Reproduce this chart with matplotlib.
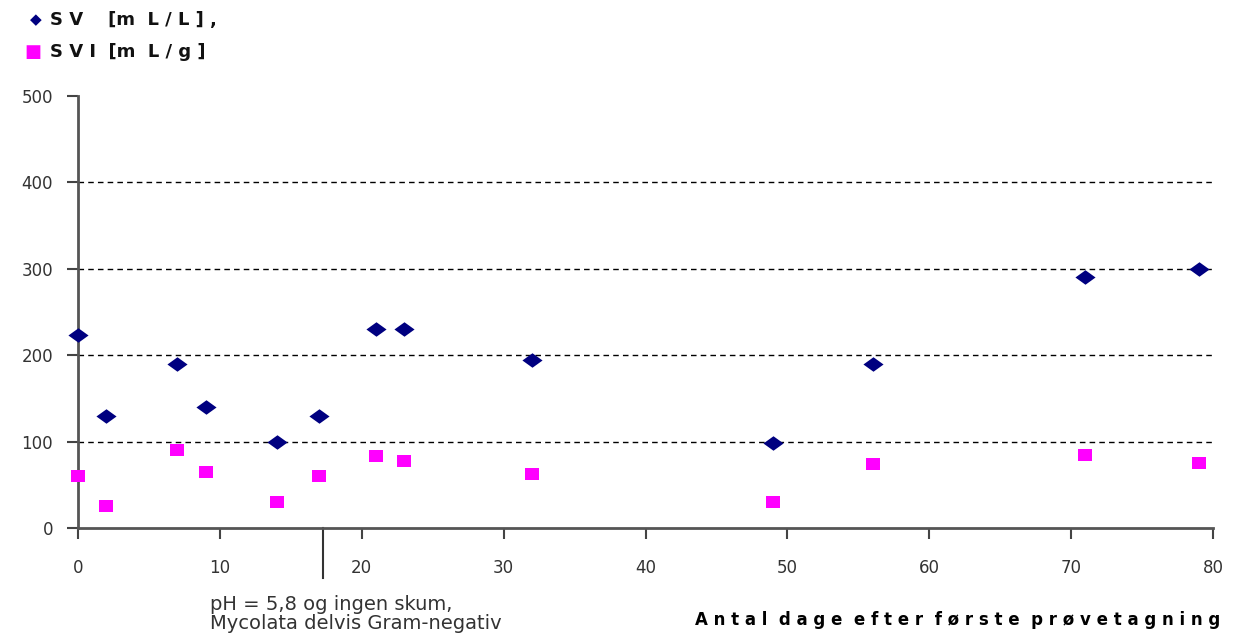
import matplotlib
matplotlib.use("Agg")
import matplotlib.pyplot as plt

days = [0, 2, 7, 9, 14, 17, 21, 23, 32, 49, 56, 71, 79]
sv = [223, 130, 190, 140, 100, 130, 230, 230, 195, 98, 190, 290, 300]
svi = [60, 25, 90, 65, 30, 60, 83, 78, 63, 30, 74, 84, 75]
x_ticks = [0, 10, 20, 30, 40, 50, 60, 70, 80]
y_ticks = [0, 100, 200, 300, 400, 500]
grid_levels = [100, 200, 300, 400]
event_day = 17.3
labels = ["S V    [m  L / L ] ,", "S V I  [m  L / g ]"]
xlabel = "A n t a l  d a g e  e f t e r  f ø r s t e  p r ø v e t a g n i n g"
note = "pH = 5,8 og ingen skum,\nMycolata delvis Gram-negativ"

fig = plt.figure(figsize=(12.38, 6.41), dpi=100)
ax = fig.add_axes([78/1238, 1-528/641, (1213-78)/1238, (528-96)/641])

for g in grid_levels:
    ax.axhline(g, color="black", linestyle=(0, (4, 3)), linewidth=1, zorder=1)

diamond = [(-1, 0), (0, 0.72), (1, 0), (0, -0.72), (-1, 0)]
rect = [(-1, -0.8), (1, -0.8), (1, 0.8), (-1, 0.8), (-1, -0.8)]
ax.scatter(days, sv, marker=diamond, s=210, color="#000080", zorder=3, linewidths=0,
           clip_on=False)
ax.scatter(days, svi, marker=rect, s=115, color="#ff00ff", zorder=3, linewidths=0,
           clip_on=False)

ax.set_xlim(0, 80)
ax.set_ylim(0, 500)
ax.set_xticks(x_ticks)
ax.set_yticks(y_ticks)
for s in ["top", "right"]:
    ax.spines[s].set_visible(False)
for s in ["left", "bottom"]:
    ax.spines[s].set_color("#555555")
    ax.spines[s].set_linewidth(2)
ax.tick_params(axis="both", direction="out", length=8, width=1.5, color="#444444",
               labelsize=12, labelcolor="#333333")
ax.tick_params(axis="x", pad=14)
ax.tick_params(axis="y", pad=10)
ax.spines["left"].set_zorder(2)

ax.axvline(event_day, ymin=-0.116, ymax=0, clip_on=False, color="#333333", linewidth=1.5)

# legend
fig.text(30/1238, 1-20/641, "◆", color="#000080", fontsize=11, va="center", ha="left")
fig.text(50/1238, 1-20/641, labels[0], fontsize=13, fontweight="bold", va="center", ha="left", color="#111111")
fig.text(24/1238, 1-52/641, "■", color="#ff00ff", fontsize=13, va="center", ha="left")
fig.text(50/1238, 1-52/641, labels[1], fontsize=13, fontweight="bold", va="center", ha="left", color="#111111")

fig.text(1220/1238, 1-620/641, xlabel, fontsize=12, fontweight="bold", ha="right", va="center")
fig.text(210/1238, 1-614/641, note, fontsize=14, ha="left", va="center", color="#333333",
         linespacing=1.0)

fig.savefig("out.png", dpi=100)
